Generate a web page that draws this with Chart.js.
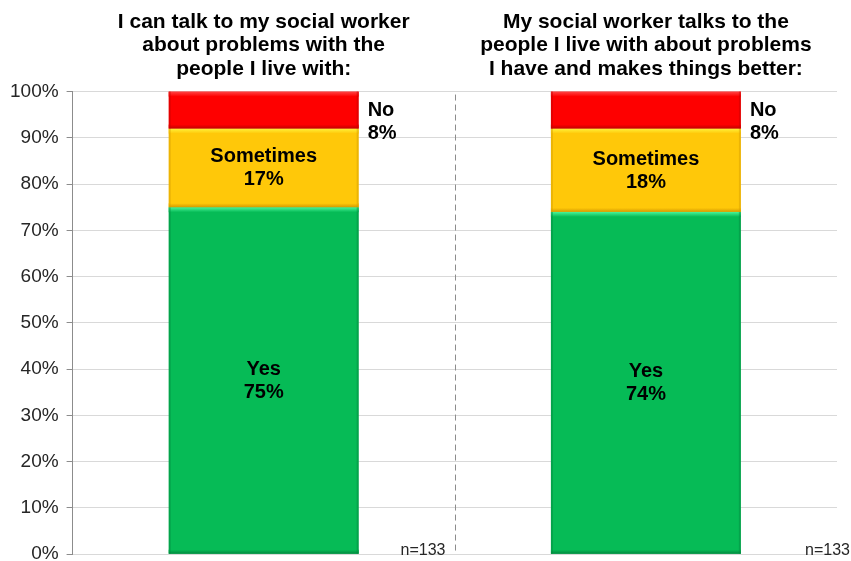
<!DOCTYPE html>
<html lang="en">
<head>
    <meta charset="UTF-8">
    <title>Social worker survey</title>
    <script src="https://cdn.jsdelivr.net/npm/chart.js"></script>
    <style>
        body {
            margin: 0;
            padding: 0;
            background: #fff;
            overflow: hidden;
        }

        .chart-box {
            width: 851px;
            height: 561px;
            overflow: hidden;
        }
    </style>
</head>
<body>
    <div class="chart-box">
        <!-- canvas runs a few px past the box so the 0% line sits near the bottom edge -->
        <canvas id="surveyChart" width="851" height="567"></canvas>
    </div>

    <script>
        const questions = [
            ['I can talk to my social worker', 'about problems with the', 'people I live with:'],
            ['My social worker talks to the', 'people I live with about problems', 'I have and makes things better:']
        ];
        const answerNames = ['Yes', 'Sometimes', 'No'];
        const yesValues = [75, 74];
        const sometimesValues = [17, 18];
        const noValues = [8, 8];
        const sampleSizes = [133, 133];

        const FONT = 'Arial, "Liberation Sans", sans-serif';

        // light / dark edges give the bars a bevelled look
        const bevel = [
            { fill: '#06BB56', light: '#4BF59A', dark: '#02883E' },
            { fill: '#FFC809', light: '#FFF23A', dark: '#D59B00' },
            { fill: '#FE0000', light: '#FF4545', dark: '#C30000' }
        ];

        const bevelPlugin = {
            id: 'bevel',
            afterDatasetsDraw(chart) {
                const ctx = chart.ctx;
                chart.data.datasets.forEach((ds, di) => {
                    const meta = chart.getDatasetMeta(di);
                    const c = bevel[di];
                    meta.data.forEach(bar => {
                        const { x, y, base, width } = bar.getProps(['x', 'y', 'base', 'width'], true);
                        const left = x - width / 2;
                        const h = base - y;
                        ctx.save();
                        let g = ctx.createLinearGradient(0, y, 0, y + 5);
                        g.addColorStop(0, c.light);
                        g.addColorStop(1, c.fill);
                        ctx.fillStyle = g;
                        ctx.fillRect(left, y, width, 5);
                        g = ctx.createLinearGradient(0, base - 4, 0, base);
                        g.addColorStop(0, c.fill);
                        g.addColorStop(1, c.dark);
                        ctx.fillStyle = g;
                        ctx.fillRect(left, base - 4, width, 4);
                        ctx.globalAlpha = 0.45;
                        ctx.fillStyle = c.dark;
                        ctx.fillRect(left, y, 2, h);
                        ctx.fillRect(left + width - 2, y, 2, h);
                        ctx.restore();
                    });
                });
            }
        };

        const labelPlugin = {
            id: 'segmentLabels',
            afterDatasetsDraw(chart) {
                const ctx = chart.ctx;
                ctx.save();
                ctx.fillStyle = '#000';
                ctx.font = 'bold 20px ' + FONT;
                ctx.textBaseline = 'middle';
                chart.data.datasets.forEach((ds, di) => {
                    const meta = chart.getDatasetMeta(di);
                    meta.data.forEach((bar, i) => {
                        const { x, y, base, width } = bar.getProps(['x', 'y', 'base', 'width'], true);
                        const txt = Math.round(ds.data[i]) + '%';
                        const mid = (y + base) / 2;
                        if (di === 2) {
                            ctx.textAlign = 'left';
                            ctx.fillText(ds.label, x + width / 2 + 9, mid);
                            ctx.fillText(txt, x + width / 2 + 9, mid + 23);
                        } else {
                            ctx.textAlign = 'center';
                            ctx.fillText(ds.label, x, mid - 11);
                            ctx.fillText(txt, x, mid + 12);
                        }
                    });
                });
                ctx.restore();
            }
        };

        const dividerPlugin = {
            id: 'divider',
            afterDraw(chart) {
                const ctx = chart.ctx;
                const xs = chart.scales.x;
                const area = chart.chartArea;
                const sepX = Math.round((xs.getPixelForValue(0) + xs.getPixelForValue(1)) / 2) + 0.5;
                ctx.save();
                ctx.strokeStyle = '#8c8c8c';
                ctx.lineWidth = 1;
                ctx.setLineDash([6, 4]);
                ctx.beginPath();
                ctx.moveTo(sepX, area.top + 3);
                ctx.lineTo(sepX, area.bottom);
                ctx.stroke();
                ctx.setLineDash([]);

                ctx.fillStyle = '#262626';
                ctx.font = '16px ' + FONT;
                ctx.textAlign = 'right';
                ctx.textBaseline = 'middle';
                ctx.fillText('n=' + sampleSizes[0], sepX - 10, area.bottom - 4);
                ctx.fillText('n=' + sampleSizes[1], chart.width - 1, area.bottom - 4);
                ctx.restore();
            }
        };

        new Chart(document.getElementById('surveyChart').getContext('2d'), {
            type: 'bar',
            data: {
                labels: questions,
                datasets: [
                    { label: answerNames[0], data: yesValues, backgroundColor: bevel[0].fill },
                    { label: answerNames[1], data: sometimesValues, backgroundColor: bevel[1].fill },
                    { label: answerNames[2], data: noValues, backgroundColor: bevel[2].fill }
                ]
            },
            options: {
                responsive: false,
                animation: false,
                layout: {
                    autoPadding: false,
                    padding: { left: 2, right: 14, top: 7, bottom: 2 }
                },
                datasets: {
                    bar: {
                        barPercentage: 0.497,
                        categoryPercentage: 1,
                        borderWidth: 0
                    }
                },
                plugins: {
                    legend: { display: false },
                    tooltip: { enabled: false }
                },
                scales: {
                    x: {
                        position: 'top',
                        stacked: true,
                        grid: { display: false },
                        border: { display: false },
                        ticks: {
                            color: '#000',
                            font: { family: FONT, size: 21, weight: 'bold', lineHeight: 1.12 },
                            padding: 3,
                            maxRotation: 0
                        }
                    },
                    y: {
                        stacked: true,
                        min: 0,
                        max: 100,
                        grid: {
                            color: '#d9d9d9',
                            tickColor: '#8c8c8c',
                            tickLength: 6
                        },
                        border: { display: true, color: '#8c8c8c' },
                        ticks: {
                            stepSize: 10,
                            color: '#262626',
                            padding: 8,
                            // short line height keeps the 0% label from pushing the axis up
                            font: { family: FONT, size: 19, lineHeight: 0.5 },
                            callback: v => v + '%'
                        }
                    }
                }
            },
            plugins: [bevelPlugin, labelPlugin, dividerPlugin]
        });
    </script>
</body>
</html>
